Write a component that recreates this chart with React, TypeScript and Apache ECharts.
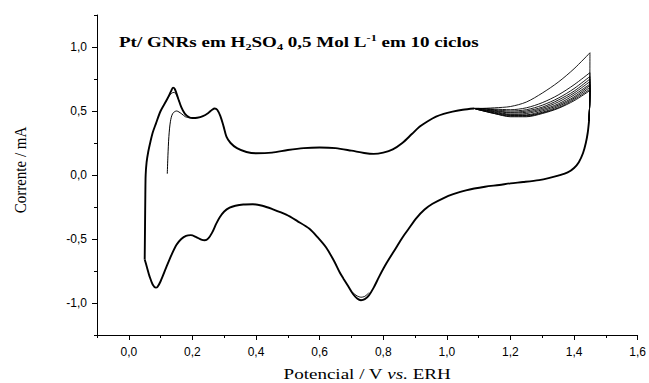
import React, { useEffect, useRef } from "react";
import * as echarts from "echarts";

// ---- Data ----
// Common anodic sweep (all cycles overlap), potential in V vs. ERH, current in mA
const anodicPotential = [
  0.05, 0.051, 0.052, 0.053, 0.056, 0.061, 0.068, 0.075, 0.085, 0.1, 0.12, 0.133, 0.139,
  0.145, 0.155, 0.165, 0.176, 0.19, 0.2, 0.215, 0.233, 0.25, 0.262, 0.27, 0.278, 0.288,
  0.298, 0.307, 0.32, 0.34, 0.37, 0.4, 0.45, 0.5, 0.55, 0.6, 0.65, 0.7, 0.74, 0.77, 0.8,
  0.83, 0.86, 0.89, 0.914, 0.94, 0.966, 0.99, 1.018, 1.05, 1.086,
];
const anodicCurrent = [
  -0.66, -0.4, -0.15, 0.0, 0.1, 0.18, 0.26, 0.33, 0.4, 0.5, 0.59, 0.655, 0.683,
  0.67, 0.6, 0.53, 0.48, 0.45, 0.445, 0.447, 0.46, 0.485, 0.51, 0.52, 0.51, 0.46,
  0.38, 0.3, 0.25, 0.21, 0.18, 0.17, 0.175, 0.195, 0.21, 0.215, 0.21, 0.19, 0.172, 0.165, 0.175,
  0.2, 0.25, 0.32, 0.377, 0.42, 0.456, 0.478, 0.495, 0.51, 0.52,
];

// High-potential part of the anodic sweep, one row per cycle
const tailPotential = [1.086, 1.1, 1.15, 1.2, 1.25, 1.3, 1.35, 1.4, 1.45];
const cycleTailCurrents = [
  [0.52, 0.52, 0.525, 0.535, 0.57, 0.64, 0.725, 0.83, 0.955],
  [0.52, 0.52, 0.515, 0.51, 0.525, 0.565, 0.625, 0.705, 0.8],
  [0.52, 0.52, 0.51, 0.5, 0.51, 0.545, 0.6, 0.675, 0.77],
  [0.52, 0.52, 0.505, 0.49, 0.5, 0.53, 0.585, 0.655, 0.75],
  [0.52, 0.515, 0.5, 0.485, 0.49, 0.52, 0.57, 0.64, 0.73],
  [0.52, 0.515, 0.495, 0.475, 0.48, 0.51, 0.555, 0.625, 0.71],
  [0.52, 0.515, 0.49, 0.47, 0.47, 0.5, 0.545, 0.61, 0.7],
  [0.52, 0.51, 0.485, 0.465, 0.465, 0.49, 0.535, 0.6, 0.685],
  [0.52, 0.51, 0.48, 0.46, 0.46, 0.485, 0.525, 0.59, 0.67],
  [0.52, 0.51, 0.48, 0.455, 0.455, 0.48, 0.52, 0.58, 0.66],
];
// Reversal at the upper vertex, down to where the cycles merge
const reversalPotential = [1.449, 1.447];
const reversalCurrent = [0.55, 0.42];

// Common cathodic sweep
const cathodicPotential = [
  1.447, 1.443, 1.437, 1.428, 1.415, 1.4, 1.38, 1.35, 1.32, 1.29, 1.24, 1.2, 1.165, 1.12,
  1.06, 1.02, 0.99, 0.955, 0.93, 0.905, 0.88, 0.86, 0.84, 0.81, 0.788, 0.77, 0.755, 0.742,
  0.73, 0.718, 0.705, 0.69, 0.675, 0.663, 0.645, 0.62, 0.595, 0.568, 0.53, 0.495, 0.45,
  0.42, 0.39, 0.36, 0.335, 0.317, 0.3, 0.286, 0.275, 0.262, 0.25, 0.239, 0.228, 0.212,
  0.195, 0.18, 0.165, 0.15, 0.135, 0.118, 0.1, 0.09, 0.085, 0.075, 0.065, 0.057, 0.05,
];
const cathodicCurrent = [
  0.42, 0.33, 0.25, 0.17, 0.1, 0.055, 0.02, -0.005, -0.025, -0.04, -0.055, -0.065, -0.078, -0.092,
  -0.12, -0.15, -0.18, -0.225, -0.27, -0.335, -0.42, -0.49, -0.57, -0.69, -0.79, -0.88, -0.94, -0.97,
  -0.978, -0.965, -0.93, -0.87, -0.81, -0.76, -0.67, -0.565, -0.49, -0.42, -0.36, -0.31, -0.265,
  -0.24, -0.228, -0.23, -0.24, -0.255, -0.285, -0.33, -0.38, -0.45, -0.495, -0.51, -0.505, -0.485,
  -0.47, -0.475, -0.5, -0.545, -0.62, -0.72, -0.83, -0.875, -0.88, -0.855, -0.79, -0.72, -0.66,
];

// Start of the first cycle (begins at open-circuit potential)
const firstStartPotential = [0.121, 0.123, 0.126, 0.131, 0.138, 0.15, 0.165, 0.178, 0.19];
const firstStartCurrent = [0.01, 0.15, 0.3, 0.42, 0.48, 0.5, 0.48, 0.455, 0.448];

// A lower hydrogen-desorption peak of one cycle
const innerPeakPotential = [0.115, 0.125, 0.135, 0.142, 0.15, 0.16];
const innerPeakCurrent = [0.565, 0.61, 0.64, 0.645, 0.625, 0.565];

// A shallower oxide-reduction minimum of one cycle
const innerValleyPotential = [0.705, 0.718, 0.73, 0.742, 0.755];
const innerValleyCurrent = [-0.92, -0.945, -0.955, -0.948, -0.92];

// Axis ticks
const xMajorTicks = [0, 0.2, 0.4, 0.6, 0.8, 1.0, 1.2, 1.4, 1.6];
const xMinorTicks = [-0.1, 0.1, 0.3, 0.5, 0.7, 0.9, 1.1, 1.3, 1.5];
const yMajorTicks = [-1.0, -0.5, 0, 0.5, 1.0];
const yMinorTicks = [-1.25, -0.75, -0.25, 0.25, 0.75, 1.25];

const pairs = (xs: number[], ys: number[]) => xs.map((x, k) => [x, ys[k]]);
const fmt = (v: number) => v.toFixed(1).replace(".", ",");

export default function App() {
  const ref = useRef<HTMLDivElement>(null);

  useEffect(() => {
    if (!ref.current) return;
    const chart = echarts.init(ref.current, undefined, { renderer: "svg" });

    const lineBase = {
      type: "line" as const,
      showSymbol: false,
      symbol: "none",
      smooth: 0.3,
      xAxisIndex: 0,
      yAxisIndex: 0,
      silent: true,
    };

    const series: any[] = [
      {
        ...lineBase,
        name: "anodic",
        data: pairs(anodicPotential, anodicCurrent),
        lineStyle: { color: "#000", width: 1.9 },
      },
      {
        ...lineBase,
        name: "cathodic",
        data: pairs(cathodicPotential, cathodicCurrent),
        lineStyle: { color: "#000", width: 1.9 },
      },
      ...cycleTailCurrents.map((row, c) => ({
        ...lineBase,
        name: "ciclo " + (c + 1),
        data: pairs(
          [...tailPotential, ...reversalPotential],
          [...row, ...reversalCurrent]
        ),
        lineStyle: { color: "#000", width: 0.9 },
      })),
      {
        ...lineBase,
        name: "start",
        data: pairs(firstStartPotential, firstStartCurrent),
        lineStyle: { color: "#000", width: 1 },
      },
      {
        ...lineBase,
        name: "innerPeak",
        data: pairs(innerPeakPotential, innerPeakCurrent),
        lineStyle: { color: "#000", width: 0.9 },
      },
      {
        ...lineBase,
        name: "innerValley",
        data: pairs(innerValleyPotential, innerValleyCurrent),
        lineStyle: { color: "#000", width: 0.9 },
      },
    ];

    const labelStyle = {
      color: "#000",
      fontFamily: "Liberation Sans",
      fontSize: 12,
      formatter: (v: number) => fmt(v),
    };

    chart.setOption({
      animation: false,
      backgroundColor: "#fff",
      grid: { left: 97, right: 10.5, top: 15, bottom: 48, containLabel: false },
      xAxis: [
        {
          type: "value",
          min: -0.1,
          max: 1.6,
          position: "bottom",
          axisLine: { show: true, onZero: false, lineStyle: { color: "#000", width: 1 } },
          axisTick: { show: true, inside: false, length: 5, customValues: xMajorTicks, lineStyle: { color: "#000" } },
          axisLabel: { ...labelStyle, margin: 11, customValues: xMajorTicks },
          splitLine: { show: false },
        },
        {
          type: "value",
          min: -0.1,
          max: 1.6,
          position: "bottom",
          axisLine: { show: false, onZero: false },
          axisTick: { show: true, inside: false, length: 3, customValues: xMinorTicks, lineStyle: { color: "#000" } },
          axisLabel: { show: false },
          splitLine: { show: false },
        },
      ],
      yAxis: [
        {
          type: "value",
          min: -1.25,
          max: 1.25,
          position: "left",
          axisLine: { show: true, onZero: false, lineStyle: { color: "#000", width: 1 } },
          axisTick: { show: true, inside: false, length: 5, customValues: yMajorTicks, lineStyle: { color: "#000" } },
          axisLabel: { ...labelStyle, margin: 10, customValues: yMajorTicks },
          splitLine: { show: false },
        },
        {
          type: "value",
          min: -1.25,
          max: 1.25,
          position: "left",
          axisLine: { show: false, onZero: false },
          axisTick: { show: true, inside: false, length: 3, customValues: yMinorTicks, lineStyle: { color: "#000" } },
          axisLabel: { show: false },
          splitLine: { show: false },
        },
      ],
      graphic: [
        {
          type: "text",
          x: 119,
          y: 42,
          scaleX: 1.36,
          silent: true,
          style: {
            text: "{b|Pt/ GNRs em H}{s|2}{b|SO}{s|4}{b| 0,5 Mol L}{p|-1}{b| em 10 ciclos}",
            align: "left",
            verticalAlign: "middle",
            fill: "#000",
            rich: {
              b: { fontFamily: "Liberation Serif", fontWeight: "bold", fontSize: 14, lineHeight: 18, fill: "#000" },
              s: { fontFamily: "Liberation Serif", fontWeight: "bold", fontSize: 9, lineHeight: 9, verticalAlign: "bottom", fill: "#000" },
              p: { fontFamily: "Liberation Serif", fontWeight: "bold", fontSize: 9, lineHeight: 9, verticalAlign: "top", fill: "#000" },
            },
          },
        },
        {
          type: "text",
          x: 367,
          y: 374,
          scaleX: 1.36,
          silent: true,
          style: {
            text: "{n|Potencial / V }{i|vs.}{n| ERH}",
            align: "center",
            verticalAlign: "middle",
            fill: "#000",
            rich: {
              n: { fontFamily: "Liberation Serif", fontSize: 14, fill: "#000" },
              i: { fontFamily: "Liberation Serif", fontStyle: "italic", fontSize: 14, fill: "#000" },
            },
          },
        },
        {
          type: "text",
          x: 20,
          y: 170,
          rotation: Math.PI / 2,
          scaleY: 1.15,
          silent: true,
          style: {
            text: "Corrente / mA",
            align: "center",
            verticalAlign: "middle",
            fill: "#000",
            fontFamily: "Liberation Serif",
            fontSize: 15,
          },
        },
      ],
      series,
    });

    return () => chart.dispose();
  }, []);

  return <div ref={ref} style={{ width: 649, height: 383, position: "absolute", left: 0, top: 0 }} />;
}
